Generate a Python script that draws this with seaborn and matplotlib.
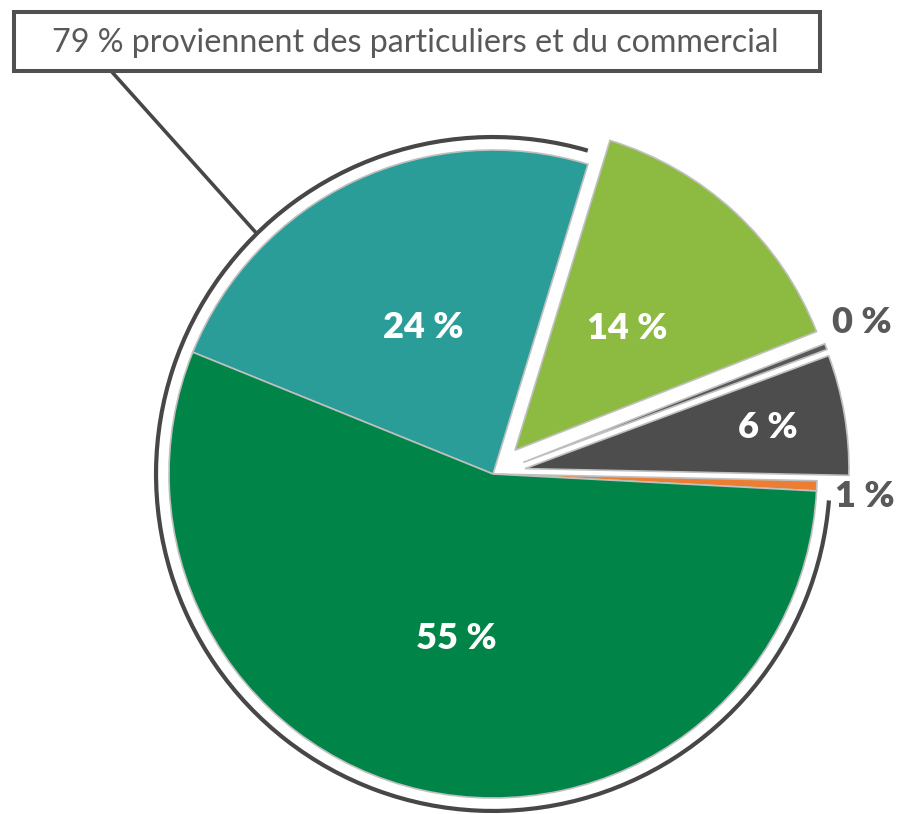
import numpy as np
import matplotlib
matplotlib.use("Agg")
import matplotlib.pyplot as plt
from matplotlib.patches import Arc, Rectangle
import seaborn as sns

# ---- data (counter-clockwise order, starting just below 3 o'clock) ----
categories = ["Autre", "Industrie", "Agriculture", "Tertiaire", "Commercial", "Particuliers"]
values = [0.5, 6.0, 0.3, 14.3, 23.6, 55.3]
pct_labels = ["1 %", "6 %", "0 %", "14 %", "24 %", "55 %"]
callout_text = "79 % proviennent des particuliers et du commercial"

# ---- style ----
colors = ["#ED7D31", "#4D4D4D", "#595959", "#8DBB42", "#2A9D98", "#008448"]
explode = [0.0, 0.1, 0.1, 0.1, 0.0, 0.0]
label_dist = [1.15, 0.76, 1.13, 0.51, 0.5, 0.52]
label_ang_shift = [-1.4, 0.0, 1.6, 0.0, 0.0, 0.0]
label_colors = ["#595959", "white", "#595959", "white", "white", "white"]

sns.set_theme(style="white")
plt.rcParams["font.family"] = ["Lato", "DejaVu Sans"]

W, H, DPI = 901, 814, 100
CX, CY, R = 493, 474, 324  # pie centre / radius in pixels


def px(x, y):
    """pixel (from top-left) -> data units"""
    return (x - CX) / R, (CY - y) / R


fig = plt.figure(figsize=(W / DPI, H / DPI), dpi=DPI)
ax = fig.add_axes([0, 0, 1, 1])

wedges, _ = ax.pie(values, colors=colors, explode=explode, startangle=-3,
                   counterclock=True, radius=1.0,
                   wedgeprops=dict(edgecolor="#BFBFBF", linewidth=1.2))

ax.set_xlim(-CX / R, (W - CX) / R)
ax.set_ylim(-(H - CY) / R, CY / R)
ax.set_aspect("equal")
ax.axis("off")

for w, lab, d, s, c in zip(wedges, pct_labels, label_dist, label_ang_shift, label_colors):
    mid = np.deg2rad((w.theta1 + w.theta2) / 2 + s)
    cx, cy = w.center
    ax.text(cx + d * np.cos(mid), cy + d * np.sin(mid), lab, ha="center", va="center",
            color=c, fontsize=26, fontweight="heavy")

# outer arc grouping the two biggest slices
t1 = wedges[4].theta1 + 0.7
t2 = wedges[5].theta2 - 1.5
arc_r = 1.04
ax.add_patch(Arc((0, 0), 2 * arc_r, 2 * arc_r, theta1=t1, theta2=t2,
                 color="#474747", linewidth=3.0))

# callout line
ang = np.deg2rad(134.5)
x0, y0 = arc_r * np.cos(ang), arc_r * np.sin(ang)
x1, y1 = px(112, 72)
ax.plot([x0, x1], [y0, y1], color="#474747", linewidth=2.6, solid_capstyle="butt")

# callout box
bx0, by0, bx1, by1 = 14, 12, 820, 71
fig.patches.append(Rectangle((bx0 / W, 1 - by1 / H), (bx1 - bx0) / W, (by1 - by0) / H,
                             transform=fig.transFigure, facecolor="white",
                             edgecolor="#505050", linewidth=2.9, zorder=5))
t = fig.text(415 / W, 1 - 43 / H, callout_text, ha="center", va="center",
             color="#595959", fontsize=21, zorder=6)
fig.canvas.draw()
tw = t.get_window_extent().width
t.set_fontsize(21 * 726 / tw)

fig.savefig("out.png", dpi=DPI)
